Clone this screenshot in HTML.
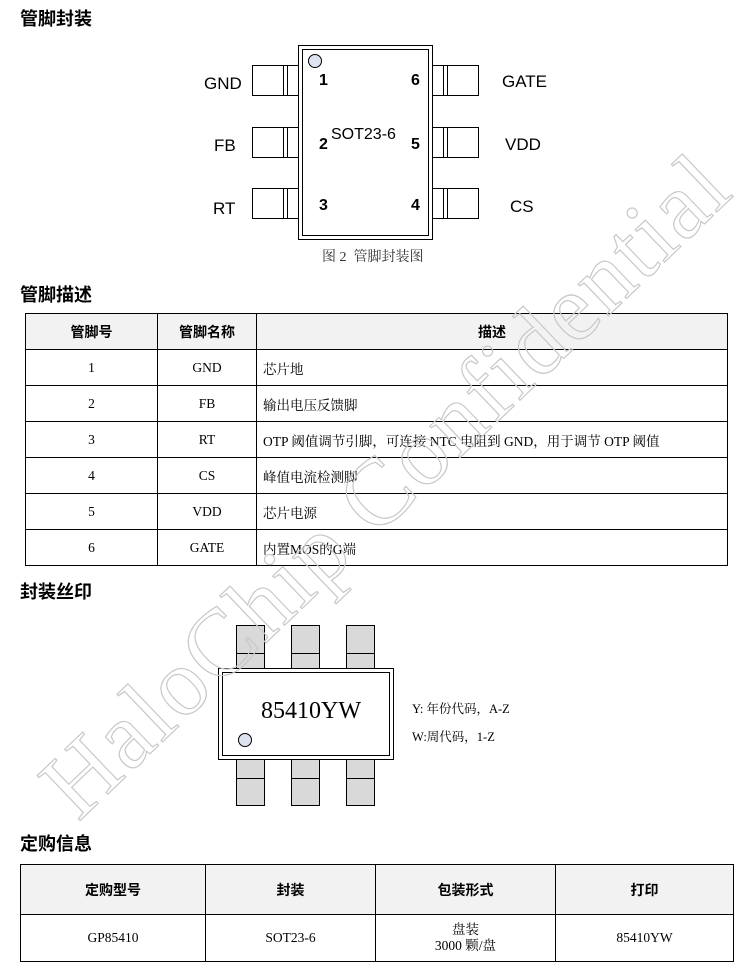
<!DOCTYPE html>
<html><head><meta charset="utf-8"><style>
*{margin:0;padding:0;box-sizing:border-box}
body{width:748px;height:971px;background:#fff;position:relative;overflow:hidden;font-family:"Liberation Sans","Noto Sans CJK SC",sans-serif;color:#000}
.a{position:absolute}
.h{font-weight:bold;font-size:18px;font-family:"Liberation Sans","Noto Sans CJK SC",sans-serif}
.pin{position:absolute;border:1px solid #000;background:#fff}
.lbl{position:absolute;font-size:17px;font-family:"Liberation Sans",sans-serif}
.num{position:absolute;font-size:16px;font-weight:bold}
table{position:absolute;border-collapse:collapse}
td{border:1px solid #000;font-size:13.5px;font-family:"Liberation Serif","Noto Serif CJK SC",serif;text-align:center;padding:0 6px}
th{border:1px solid #000;background:#f2f2f2;font-size:14px;font-weight:bold;font-family:"Liberation Sans","Noto Sans CJK SC",sans-serif}
.l{text-align:left}
.gp{position:absolute;background:#d9d9d9;border:1px solid #000}
</style></head><body>
<div class="a h" style="left:20px;top:5px">管脚封装</div>
<div class="a" style="left:298px;top:45px;width:135px;height:195px;border:1px solid #000"></div>
<div class="a" style="left:302px;top:49px;width:127px;height:187px;border:1px solid #000"></div>
<div class="a" style="left:308px;top:54px;width:14px;height:14px;border-radius:50%;border:1px solid #000;background:#dde3f0"></div>
<div class="pin" style="left:252px;top:65px;width:47px;height:31px"></div>
<div class="pin" style="left:252px;top:127px;width:47px;height:31px"></div>
<div class="pin" style="left:252px;top:188px;width:47px;height:31px"></div>
<div class="pin" style="left:432px;top:65px;width:47px;height:31px"></div>
<div class="pin" style="left:432px;top:127px;width:47px;height:31px"></div>
<div class="pin" style="left:432px;top:188px;width:47px;height:31px"></div>
<div class="a" style="left:283px;top:65px;width:5px;height:31px;border-left:1px solid #000;border-right:1px solid #000"></div>
<div class="a" style="left:283px;top:127px;width:5px;height:31px;border-left:1px solid #000;border-right:1px solid #000"></div>
<div class="a" style="left:283px;top:188px;width:5px;height:31px;border-left:1px solid #000;border-right:1px solid #000"></div>
<div class="a" style="left:443px;top:65px;width:5px;height:31px;border-left:1px solid #000;border-right:1px solid #000"></div>
<div class="a" style="left:443px;top:127px;width:5px;height:31px;border-left:1px solid #000;border-right:1px solid #000"></div>
<div class="a" style="left:443px;top:188px;width:5px;height:31px;border-left:1px solid #000;border-right:1px solid #000"></div>
<div class="lbl" style="left:204px;top:74px">GND</div>
<div class="lbl" style="left:214px;top:136px">FB</div>
<div class="lbl" style="left:213px;top:199px">RT</div>
<div class="lbl" style="left:502px;top:72px">GATE</div>
<div class="lbl" style="left:505px;top:135px">VDD</div>
<div class="lbl" style="left:510px;top:197px">CS</div>
<div class="num" style="left:319px;top:72px">1</div>
<div class="num" style="left:319px;top:136px">2</div>
<div class="num" style="left:319px;top:197px">3</div>
<div class="num" style="left:411px;top:72px">6</div>
<div class="num" style="left:411px;top:136px">5</div>
<div class="num" style="left:411px;top:197px">4</div>
<div class="lbl" style="left:331px;top:126px;font-size:16px">SOT23-6</div>
<div class="a" style="left:322px;top:246px;font-size:14px;font-family:'Liberation Serif','Noto Serif CJK SC',serif;color:#333">图 2 &nbsp;管脚封装图</div>

<div class="a h" style="left:20px;top:281px">管脚描述</div>
<table style="left:25px;top:313px;width:703px">
<tr style="height:36px"><th style="width:132px">管脚号</th><th style="width:99px">管脚名称</th><th>描述</th></tr>
<tr style="height:36px"><td>1</td><td>GND</td><td class="l">芯片地</td></tr>
<tr style="height:36px"><td>2</td><td>FB</td><td class="l">输出电压反馈脚</td></tr>
<tr style="height:36px"><td>3</td><td>RT</td><td class="l">OTP 阈值调节引脚，可连接 NTC 电阻到 GND，用于调节 OTP 阈值</td></tr>
<tr style="height:36px"><td>4</td><td>CS</td><td class="l">峰值电流检测脚</td></tr>
<tr style="height:36px"><td>5</td><td>VDD</td><td class="l">芯片电源</td></tr>
<tr style="height:36px"><td>6</td><td>GATE</td><td class="l">内置MOS的G端</td></tr>
</table>

<div class="a h" style="left:20px;top:578px">封装丝印</div>
<div class="gp" style="left:236px;top:625px;width:29px;height:44px;border-bottom:none"></div>
<div class="gp" style="left:291px;top:625px;width:29px;height:44px;border-bottom:none"></div>
<div class="gp" style="left:346px;top:625px;width:29px;height:44px;border-bottom:none"></div>
<div class="a" style="left:236px;top:653px;width:29px;border-top:1px solid #000"></div>
<div class="a" style="left:291px;top:653px;width:29px;border-top:1px solid #000"></div>
<div class="a" style="left:346px;top:653px;width:29px;border-top:1px solid #000"></div>
<div class="gp" style="left:236px;top:759px;width:29px;height:47px"></div>
<div class="gp" style="left:291px;top:759px;width:29px;height:47px"></div>
<div class="gp" style="left:346px;top:759px;width:29px;height:47px"></div>
<div class="a" style="left:236px;top:778px;width:29px;border-top:1px solid #000"></div>
<div class="a" style="left:291px;top:778px;width:29px;border-top:1px solid #000"></div>
<div class="a" style="left:346px;top:778px;width:29px;border-top:1px solid #000"></div>
<div class="a" style="left:218px;top:668px;width:176px;height:92px;border:1px solid #000;background:#fff"></div>
<div class="a" style="left:222px;top:672px;width:168px;height:84px;border:1px solid #000"></div>
<div class="a" style="left:238px;top:733px;width:14px;height:14px;border-radius:50%;border:1px solid #000;background:#dde3f0"></div>
<div class="a" style="left:261px;top:698px;font-size:24px;font-family:'Liberation Serif',serif">85410YW</div>
<div class="a" style="left:412px;top:699px;font-size:12.5px;font-family:'Liberation Serif','Noto Serif CJK SC',serif">Y: 年份代码，A-Z</div>
<div class="a" style="left:412px;top:727px;font-size:12.5px;font-family:'Liberation Serif','Noto Serif CJK SC',serif">W:周代码，1-Z</div>

<div class="a h" style="left:20px;top:830px">定购信息</div>
<table style="left:20px;top:864px;width:714px">
<tr style="height:50px"><th style="width:185px">定购型号</th><th style="width:170px">封装</th><th style="width:180px">包装形式</th><th>打印</th></tr>
<tr style="height:47px"><td>GP85410</td><td>SOT23-6</td><td style="line-height:16px">盘装<br>3000 颗/盘</td><td>85410YW</td></tr>
</table>

<div class="a" style="left:385px;top:492px;width:0;height:0">
<div style="position:absolute;left:-520px;top:-62px;width:1040px;text-align:center;transform:rotate(-43.7deg);font-family:'Liberation Serif',serif;font-size:95px;letter-spacing:2px;color:transparent;-webkit-text-stroke:1.2px #c8c8c8;white-space:nowrap">HaloChip Confidential</div>
</div>
</body></html>
